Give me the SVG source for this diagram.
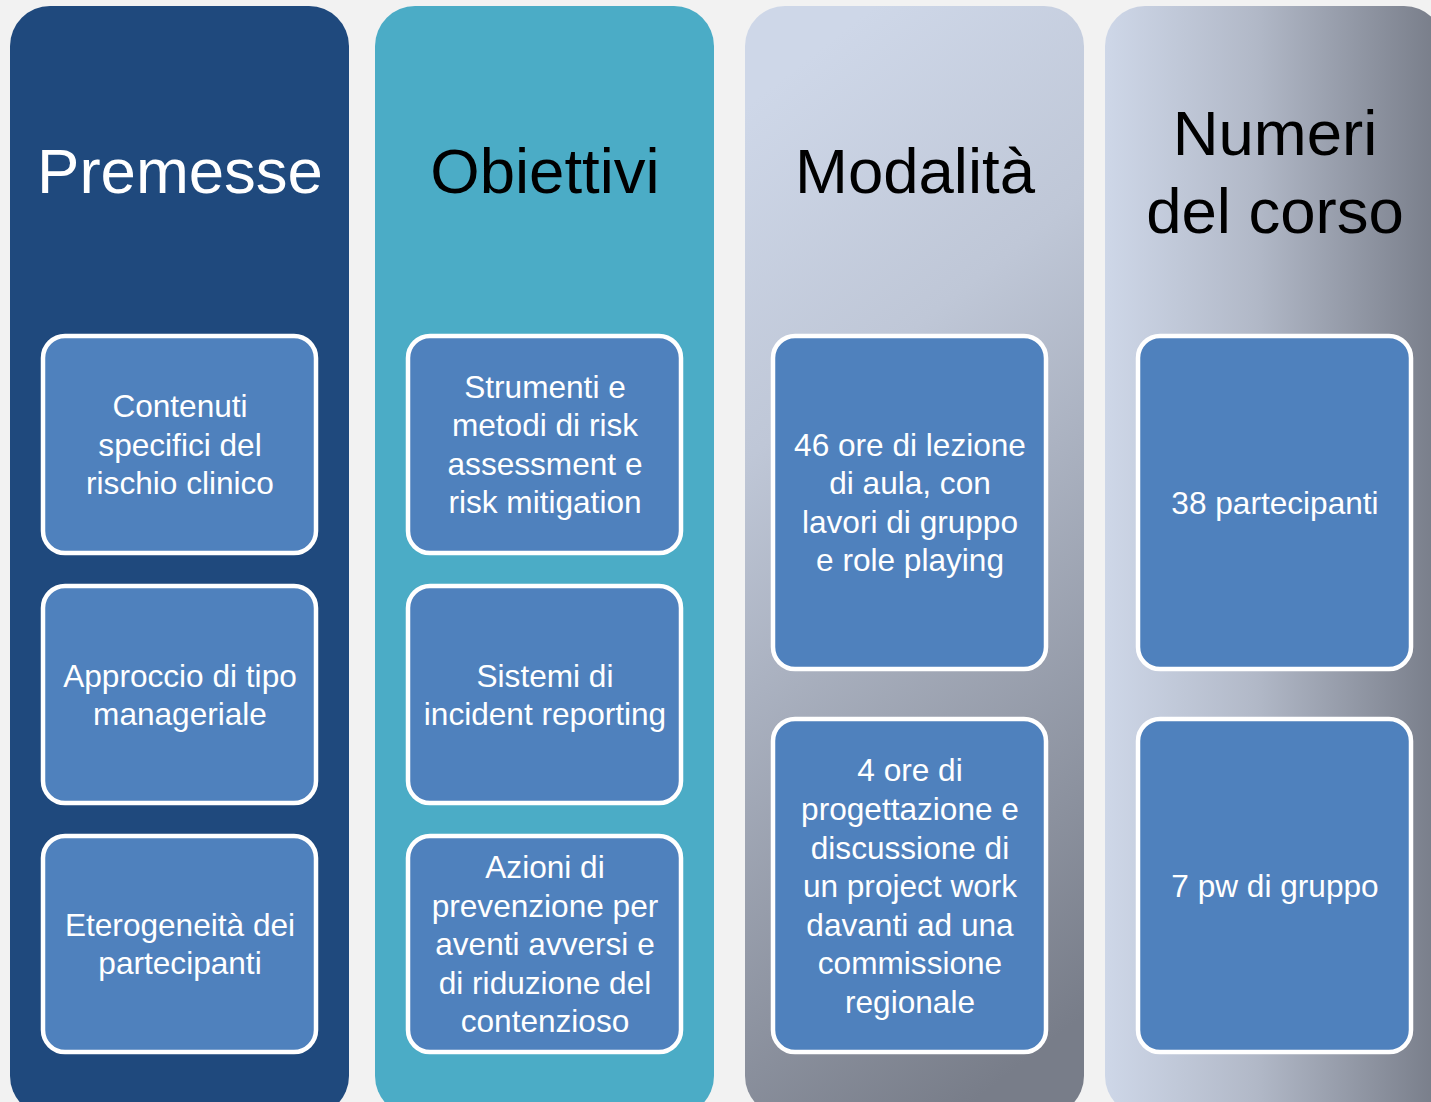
<svg xmlns="http://www.w3.org/2000/svg" width="1431" height="1102" viewBox="0 0 1431 1102">
<defs>
<linearGradient id="g3" x1="0.38" y1="0" x2="0.62" y2="1">
<stop offset="0" stop-color="#ced7e8"/>
<stop offset="0.3" stop-color="#bfc7d7"/>
<stop offset="1" stop-color="#787d89"/>
</linearGradient>
<linearGradient id="g4" x1="0" y1="0" x2="1" y2="0">
<stop offset="0" stop-color="#ced7e8"/>
<stop offset="0.45" stop-color="#b1b8c7"/>
<stop offset="1" stop-color="#767b87"/>
</linearGradient>
<style>
.col{stroke:none}
.box{fill:#4f81bd;stroke:#ffffff;stroke-width:4.5}
.title{font-family:"Liberation Sans",Arial,sans-serif;font-size:63.5px;text-anchor:middle}
.t{font-family:"Liberation Sans",Arial,sans-serif;font-size:31.6px;fill:#ffffff;text-anchor:middle}
</style>
</defs>
<rect x="0" y="0" width="1431" height="1102" fill="#f2f2f2"/>
<g id="col-premesse">
<rect class="col" x="10" y="6" width="339" height="1110" rx="40" fill="#1f497d"/>
<text class="title" x="180" y="193" fill="#ffffff">Premesse</text>
</g>
<g id="col-obiettivi">
<rect class="col" x="375" y="6" width="339" height="1110" rx="40" fill="#4bacc6"/>
<text class="title" x="545" y="193" fill="#000000">Obiettivi</text>
</g>
<g id="col-modalita">
<rect class="col" x="745" y="6" width="339" height="1110" rx="40" fill="url(#g3)"/>
<text class="title" x="915" y="193" fill="#000000">Modalità</text>
</g>
<g id="col-numeri">
<rect class="col" x="1105" y="6" width="339" height="1110" rx="40" fill="url(#g4)"/>
<text class="title" x="1275" y="155" fill="#000000">Numeri</text>
<text class="title" x="1275" y="233" fill="#000000">del corso</text>
</g>
<g id="connectors"></g>
<g id="box-contenuti">
<rect class="box" x="43" y="336" width="273" height="217" rx="22"/>
<text class="t" x="180" y="417">Contenuti</text>
<text class="t" x="180" y="456">specifici del</text>
<text class="t" x="180" y="494">rischio clinico</text>
</g>
<g id="box-approccio">
<rect class="box" x="43" y="586" width="273" height="217" rx="22"/>
<text class="t" x="180" y="687">Approccio di tipo</text>
<text class="t" x="180" y="725">manageriale</text>
</g>
<g id="box-eterogeneita">
<rect class="box" x="43" y="836" width="273" height="216" rx="22"/>
<text class="t" x="180" y="936">Eterogeneità dei</text>
<text class="t" x="180" y="974">partecipanti</text>
</g>
<g id="box-strumenti">
<rect class="box" x="408" y="336" width="273" height="217" rx="22"/>
<text class="t" x="545" y="398">Strumenti e</text>
<text class="t" x="545" y="436">metodi di risk</text>
<text class="t" x="545" y="475">assessment e</text>
<text class="t" x="545" y="513">risk mitigation</text>
</g>
<g id="box-sistemi">
<rect class="box" x="408" y="586" width="273" height="217" rx="22"/>
<text class="t" x="545" y="687">Sistemi di</text>
<text class="t" x="545" y="725">incident reporting</text>
</g>
<g id="box-azioni">
<rect class="box" x="408" y="836" width="273" height="216" rx="22"/>
<text class="t" x="545" y="878">Azioni di</text>
<text class="t" x="545" y="917">prevenzione per</text>
<text class="t" x="545" y="955">aventi avversi e</text>
<text class="t" x="545" y="994">di riduzione del</text>
<text class="t" x="545" y="1032">contenzioso</text>
</g>
<g id="box-ore-lezione">
<rect class="box" x="773" y="336" width="273" height="333" rx="22"/>
<text class="t" x="910" y="456">46 ore di lezione</text>
<text class="t" x="910" y="494">di aula, con</text>
<text class="t" x="910" y="533">lavori di gruppo</text>
<text class="t" x="910" y="571">e role playing</text>
</g>
<g id="box-progettazione">
<rect class="box" x="773" y="719" width="273" height="333" rx="22"/>
<text class="t" x="910" y="781">4 ore di</text>
<text class="t" x="910" y="820">progettazione e</text>
<text class="t" x="910" y="859">discussione di</text>
<text class="t" x="910" y="897">un project work</text>
<text class="t" x="910" y="936">davanti ad una</text>
<text class="t" x="910" y="974">commissione</text>
<text class="t" x="910" y="1013">regionale</text>
</g>
<g id="box-partecipanti">
<rect class="box" x="1138" y="336" width="273" height="333" rx="22"/>
<text class="t" x="1275" y="514">38 partecipanti</text>
</g>
<g id="box-pw">
<rect class="box" x="1138" y="719" width="273" height="333" rx="22"/>
<text class="t" x="1275" y="897">7 pw di gruppo</text>
</g>
</svg>
